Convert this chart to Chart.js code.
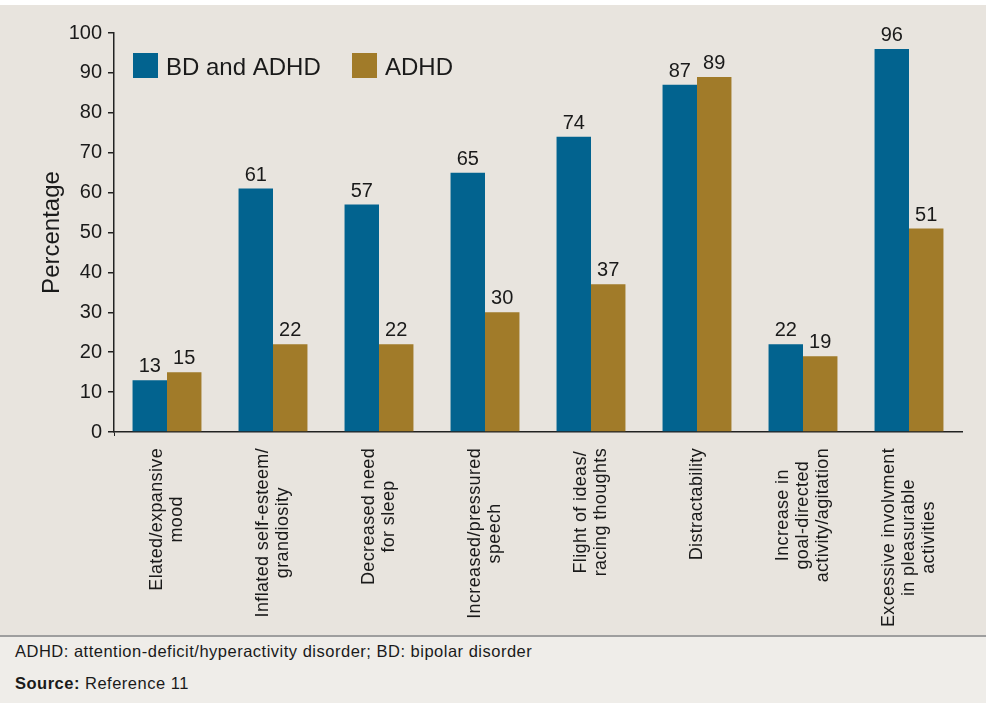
<!DOCTYPE html>
<html>
<head>
<meta charset="utf-8">
<script src="https://cdn.jsdelivr.net/npm/chart.js@4/dist/chart.umd.min.js"></script>
<style>
  body { margin:0; background:#fff; width:986px; height:703px; overflow:hidden; font-family:"Liberation Sans", Arial, Helvetica, sans-serif; }
  .chart_box { position:absolute; left:0; top:5px; width:986px; height:630px; background:#E8E4DE; }
  .sep { position:absolute; left:0; top:635px; width:986px; height:2px; background:#9e9e9e; }
  .footer { position:absolute; left:0; top:637px; width:986px; height:66px; background:#EFEDE9; color:#1a1a1a; font-size:16.5px; letter-spacing:0.5px; }
  .footer p { margin:0; position:absolute; left:15px; white-space:nowrap; }
</style>
</head>
<body>
<div class="chart_box"><canvas id="myChart" width="986" height="630"></canvas></div>
<div class="sep"></div>
<div class="footer">
  <p style="top:5px">ADHD: attention-deficit/hyperactivity disorder; BD: bipolar disorder</p>
  <p style="top:37px"><b>Source:</b> Reference 11</p>
</div>
<script>
// data
const categories = [
  ["Elated/expansive", "mood"],
  ["Inflated self-esteem/", "grandiosity"],
  ["Decreased need", "for sleep"],
  ["Increased/pressured", "speech"],
  ["Flight of ideas/", "racing thoughts"],
  ["Distractability"],
  ["Increase in", "goal-directed", "activity/agitation"],
  ["Excessive involvment", "in pleasurable", "activities"]
]
const series_names = ["BD and ADHD", "ADHD"]
const bd_adhd = [13, 61, 57, 65, 74, 87, 22, 96]
const adhd = [15, 22, 22, 30, 37, 89, 19, 51]
const y_min = 0
const y_max = 100
const y_step = 10

const blue = '#02638F'
const gold = '#A17B29'
const ink = '#1a1a1a'
const font_family = '"Liberation Sans", Arial, Helvetica, sans-serif'

// numbers above bars, rotated category labels, legend inside plot
const extra_draw = {
  id: 'extra_draw',
  afterDatasetsDraw(chart) {
    const ctx = chart.ctx
    ctx.save()
    ctx.fillStyle = ink
    ctx.font = '20px ' + font_family
    ctx.textAlign = 'center'
    ctx.textBaseline = 'alphabetic'
    chart.data.datasets.forEach((ds, di) => {
      chart.getDatasetMeta(di).data.forEach((bar, i) => {
        ctx.fillText(String(ds.data[i]), bar.x, bar.y - 8)
      })
    })
    ctx.restore()
  },
  afterDraw(chart) {
    const ctx = chart.ctx
    const x_scale = chart.scales.x
    ctx.save()
    ctx.fillStyle = ink
    ctx.font = '18px ' + font_family
    ctx.letterSpacing = '0.35px'
    ctx.textAlign = 'center'
    ctx.textBaseline = 'middle'
    const label_top = chart.chartArea.bottom + 16
    categories.forEach((lines, i) => {
      const x = x_scale.getPixelForValue(i)
      const max_w = Math.max(...lines.map(l => ctx.measureText(l).width))
      ctx.save()
      ctx.translate(x, label_top)
      ctx.rotate(-Math.PI / 2)
      lines.forEach((line, li) => {
        ctx.fillText(line, -max_w / 2, (li - (lines.length - 1) / 2) * 20)
      })
      ctx.restore()
    })

    // legend
    ctx.letterSpacing = '0px'
    const colors = [blue, gold]
    const box_x = [133, 352]
    ctx.font = '24px ' + font_family
    ctx.textAlign = 'left'
    series_names.forEach((name, i) => {
      ctx.fillStyle = colors[i]
      ctx.fillRect(box_x[i], 48, 25, 25)
      ctx.fillStyle = ink
      ctx.fillText(name, box_x[i] + 33, 63)
    })
    ctx.restore()
  }
}

const ctx = document.getElementById('myChart').getContext('2d')
const myChart = new Chart(ctx, {
  type: 'bar',
  data: {
    labels: categories.map(c => c.join(' ')),
    datasets: [
      { label: series_names[0], data: bd_adhd, backgroundColor: blue },
      { label: series_names[1], data: adhd, backgroundColor: gold }
    ]
  },
  options: {
    responsive: false,
    animation: false,
    devicePixelRatio: 1,
    layout: { padding: { top: 28, right: 24, left: 0, bottom: 0 } },
    datasets: { bar: { barPercentage: 1.0, categoryPercentage: 0.65 } },
    plugins: { legend: { display: false }, tooltip: { enabled: false } },
    scales: {
      x: {
        offset: true,
        ticks: { display: false },
        grid: {
          drawOnChartArea: false,
          tickLength: 4,
          color: (c) => c.index === 0 ? '#222' : 'rgba(0,0,0,0)'
        },
        border: { color: '#222', width: 1.5 },
        afterFit: (scale) => { scale.height = 203 }
      },
      y: {
        min: y_min,
        max: y_max,
        ticks: { stepSize: y_step, color: ink, padding: 6, font: { size: 20, family: font_family } },
        grid: { drawOnChartArea: false, tickLength: 6, color: '#222', lineWidth: 1.5 },
        border: { color: '#222', width: 1.5 },
        title: { display: true, text: 'Percentage', color: ink, font: { size: 24, family: font_family }, padding: { top: 38, bottom: 0 } },
        afterFit: (scale) => { scale.width = 114 }
      }
    }
  },
  plugins: [extra_draw]
})
</script>
</body>
</html>
